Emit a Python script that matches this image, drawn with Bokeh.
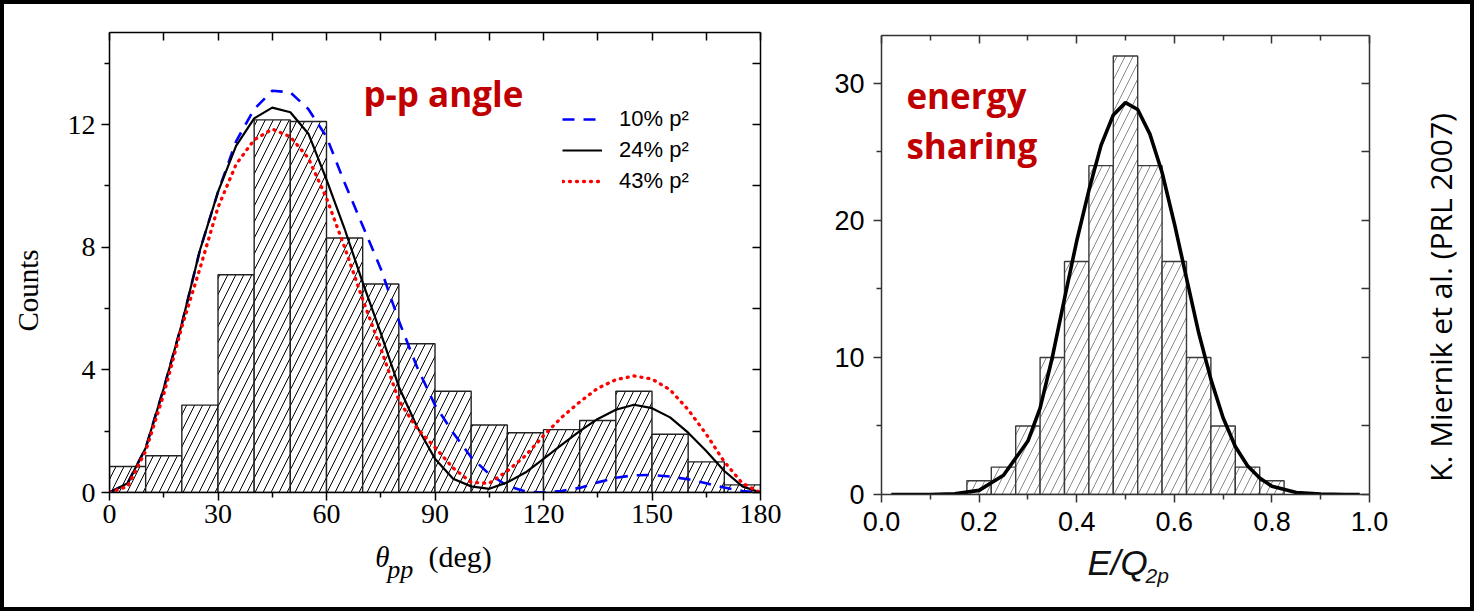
from math import pi
from bokeh.plotting import figure
from bokeh.models import (FixedTicker, LinearAxis, Label, Legend, LegendItem,
                          PrintfTickFormatter, Range1d)
from bokeh.layouts import row, column
from bokeh.core.properties import value
from bokeh.embed import file_html
from bokeh.resources import INLINE

# ---------------- data: p-p angle ----------------
theta_edges = [0, 10, 20, 30, 40, 50, 60, 70, 80, 90, 100, 110, 120, 130, 140, 150, 160, 170, 180]
theta_counts = [0.85, 1.2, 2.85, 7.1, 12.15, 12.1, 8.3, 6.8, 4.85, 3.3, 2.2, 1.95, 2.05, 2.35, 3.3, 1.9, 1.0, 0.25]

curve_theta = [0, 5, 10, 15, 20, 25, 30, 35, 40, 45, 50, 55, 60, 65, 70, 75, 80, 85, 90,
               95, 100, 105, 110, 115, 120, 125, 130, 135, 140, 145, 150, 155, 160, 165, 170, 175, 180]
curve_10pct = [0.0, 0.3, 1.45, 3.4, 5.5, 7.9, 9.8, 11.45, 12.5, 13.1, 13.05, 12.5, 11.6, 10.1, 8.7,
               7.3, 5.6, 4.1, 2.85, 1.95, 1.15, 0.6, 0.22, 0.03, 0.0, 0.05, 0.15, 0.33, 0.48, 0.56,
               0.57, 0.52, 0.43, 0.3, 0.16, 0.05, 0.0]
curve_24pct = [0.0, 0.3, 1.45, 3.4, 5.5, 7.9, 9.8, 11.3, 12.2, 12.55, 12.4, 11.7, 10.2, 8.6, 6.85,
               5.2, 3.45, 2.15, 1.1, 0.45, 0.2, 0.12, 0.33, 0.65, 1.1, 1.55, 2.0, 2.4, 2.7, 2.86,
               2.75, 2.45, 1.95, 1.35, 0.7, 0.2, 0.0]
curve_43pct = [0.0, 0.2, 1.35, 3.2, 5.4, 7.3, 9.3, 10.7, 11.5, 11.85, 11.6, 10.9, 9.6, 8.0, 6.3,
               4.7, 3.0, 2.1, 1.47, 0.8, 0.33, 0.3, 0.7, 1.2, 1.85, 2.45, 2.95, 3.4, 3.68, 3.8,
               3.7, 3.35, 2.7, 1.9, 1.0, 0.3, 0.0]
curve_labels = ["10% p\u00b2", "24% p\u00b2", "43% p\u00b2"]

theta_ticks = [0, 30, 60, 90, 120, 150, 180]
theta_minor = [15, 45, 75, 105, 135, 165]
count_ticks = [0, 4, 8, 12]
count_minor = [2, 6, 10, 14]

# ---------------- data: energy sharing ----------------
e_edges = [0.175, 0.225, 0.275, 0.325, 0.375, 0.425, 0.475, 0.525, 0.575, 0.625, 0.675, 0.725, 0.775, 0.825]
e_counts = [1, 2, 5, 10, 17, 24, 32, 24, 17, 10, 5, 2, 1]
fit_e = [0.02, 0.05, 0.1, 0.15, 0.2, 0.25, 0.3, 0.325, 0.35, 0.375, 0.4, 0.425, 0.45, 0.475, 0.5,
         0.525, 0.55, 0.575, 0.6, 0.625, 0.65, 0.675, 0.7, 0.725, 0.75, 0.775, 0.8, 0.85, 0.9, 0.95, 0.98]
fit_counts = [0.0, 0.0, 0.0, 0.05, 0.3, 1.4, 3.9, 6.3, 10.0, 14.3, 18.5, 22.2, 25.5, 27.7, 28.6,
              28.1, 26.3, 23.5, 19.8, 15.8, 11.8, 8.4, 5.6, 3.5, 2.1, 1.2, 0.6, 0.15, 0.03, 0.0, 0.0]
e_ticks = [0.0, 0.2, 0.4, 0.6, 0.8, 1.0]
e_minor = [0.1, 0.3, 0.5, 0.7, 0.9]
n_ticks = [0, 10, 20, 30]
n_minor = [5, 15, 25]

RED = "#C00000"
ser = "Liberation Serif"
sans = "Liberation Sans"


def style_axis(ax, major, minor, outward, font, size, color, standoff, width=1.5):
    ax.ticker = FixedTicker(ticks=major, minor_ticks=minor)
    ax.axis_line_width = width
    ax.axis_line_color = color
    ax.major_tick_line_color = color
    ax.minor_tick_line_color = color
    ax.major_tick_line_width = width
    ax.minor_tick_line_width = width
    if outward:
        ax.major_tick_out = 8
        ax.major_tick_in = 0
        ax.minor_tick_out = 5
        ax.minor_tick_in = 0
        ax.major_label_text_font = font
        ax.major_label_text_font_size = size
        ax.major_label_text_color = "black"
        ax.major_label_standoff = standoff
    else:
        ax.major_tick_out = 0
        ax.major_tick_in = 8
        ax.minor_tick_out = 0
        ax.minor_tick_in = 5
        ax.major_label_text_color = None
        ax.major_label_standoff = 0


def blank(fig):
    fig.grid.visible = False
    fig.outline_line_color = None
    fig.background_fill_color = "white"
    fig.border_fill_color = "white"


def strip(width, height, xr, yr, left=0, right=0):
    f = figure(width=width, height=height, x_range=xr, y_range=yr,
               output_backend="svg", toolbar_location=None,
               x_axis_location=None, y_axis_location=None,
               min_border_left=left, min_border_right=right, min_border_top=0, min_border_bottom=0)
    blank(f)
    return f


# ================= y-axis title strip (left) =================
q0 = strip(50, 603, Range1d(0, 50), Range1d(0, 603))
q0.text(x=[23], y=[317], text=["Counts"], text_font=value(ser), text_font_size="29px",
        text_color="black", angle=pi / 2, text_align="center", text_baseline="middle")

# ================= left figure =================
p1 = figure(width=740, height=532, x_range=Range1d(0, 180), y_range=Range1d(0, 15),
            output_backend="svg", toolbar_location=None,
            min_border_left=55, min_border_right=34, min_border_top=28, min_border_bottom=44)
blank(p1)

p1.quad(left=theta_edges[:-1], right=theta_edges[1:], bottom=0, top=theta_counts,
        fill_color="white", line_color="#222222", line_width=1.4,
        hatch_pattern="/", hatch_color="black", hatch_scale=16, hatch_weight=1.0)

r_b = p1.line(curve_theta, curve_10pct, line_color="#0000FF", line_width=2.6, line_dash="12 9")
r_k = p1.line(curve_theta, curve_24pct, line_color="black", line_width=2.2)
r_r = p1.line(curve_theta, curve_43pct, line_color="#FF0000", line_width=3.3,
              line_dash="1 6", line_cap="round")

style_axis(p1.xaxis[0], theta_ticks, theta_minor, True, ser, "28px", "black", 4)
style_axis(p1.yaxis[0], count_ticks, count_minor, True, ser, "28px", "black", 6)

top1 = LinearAxis()
style_axis(top1, theta_ticks + theta_minor, [], False, ser, "10px", "black", 0)
top1.major_tick_in = 8
p1.add_layout(top1, "above")
right1 = LinearAxis()
style_axis(right1, count_ticks + count_minor, [], False, ser, "10px", "black", 0)
right1.major_tick_in = 8
p1.add_layout(right1, "right")

legend = Legend(items=[LegendItem(label=curve_labels[0], renderers=[r_b]),
                       LegendItem(label=curve_labels[1], renderers=[r_k]),
                       LegendItem(label=curve_labels[2], renderers=[r_r])],
                location=(453, 298), glyph_width=40, glyph_height=20, label_height=20,
                label_standoff=17, spacing=5, padding=0, margin=0,
                border_line_color=None, background_fill_alpha=0,
                label_text_font=sans, label_text_font_size="22px", label_text_color="black")
p1.add_layout(legend)

p1.add_layout(Label(x=70.2, y=13.0, text="p-p angle", text_font="Open Sans",
                    text_font_style="bold", text_font_size="35px", text_color=RED,
                    text_baseline="alphabetic"))

# x-axis title strip under the left chart
q1 = strip(740, 71, p1.x_range, Range1d(0, 71), left=55, right=34)
q1.text(x=[73.5], y=[51], text=["\u03b8"], text_font=value(ser), text_font_style="italic",
        text_font_size="29px", text_color="black", text_baseline="alphabetic")
q1.text(x=[76.8], y=[38], text=["pp"], text_font=value(ser), text_font_style="italic",
        text_font_size="26px", text_color="black", text_baseline="alphabetic")
q1.text(x=[88.2], y=[51], text=["(deg)"], text_font=value(ser),
        text_font_size="30px", text_color="black", text_baseline="alphabetic")

# ================= right figure =================
p2 = figure(width=616, height=538, x_range=Range1d(0, 1.0), y_range=Range1d(0, 33.5),
            output_backend="svg", toolbar_location=None,
            min_border_left=87, min_border_right=41, min_border_top=31, min_border_bottom=48)
blank(p2)

p2.quad(left=e_edges[:-1], right=e_edges[1:], bottom=0, top=e_counts,
        fill_color="white", line_color="#3a3a3a", line_width=1.4,
        hatch_pattern="/", hatch_color="#8a8a8a", hatch_scale=16, hatch_weight=1.0)
p2.line(fit_e, fit_counts, line_color="black", line_width=3.6)

gray = "#333333"
style_axis(p2.xaxis[0], e_ticks, e_minor, True, sans, "27px", gray, 9)
p2.xaxis[0].formatter = PrintfTickFormatter(format="%.1f")
style_axis(p2.yaxis[0], n_ticks, n_minor, True, sans, "27px", gray, 9)

top2 = LinearAxis()
style_axis(top2, e_ticks, e_minor, False, sans, "10px", gray, 0)
p2.add_layout(top2, "above")
right2 = LinearAxis()
style_axis(right2, n_ticks + n_minor, [], False, sans, "10px", gray, 0)
right2.minor_tick_in = 0
right2.major_tick_in = 8
p2.add_layout(right2, "right")

p2.add_layout(Label(x=0.051, y=29.1, text="energy", text_font="Open Sans",
                    text_font_style="bold", text_font_size="35px", text_color=RED,
                    text_baseline="alphabetic"))
p2.add_layout(Label(x=0.051, y=25.45, text="sharing", text_font="Open Sans",
                    text_font_style="bold", text_font_size="35px", text_color=RED,
                    text_baseline="alphabetic"))

# x-axis title strip under the right chart
q2 = strip(616, 65, p2.x_range, Range1d(0, 65), left=87, right=41)
q2.text(x=[0.422], y=[45], text=["E/Q"], text_font=value(sans), text_font_style="italic",
        text_font_size="35px", text_color="#111111", text_baseline="alphabetic")
q2.text(x=[0.541], y=[32], text=["2p"], text_font=value(sans), text_font_style="italic",
        text_font_size="21px", text_color="#111111", text_baseline="alphabetic")

# side strip with the citation
q3 = strip(60, 603, Range1d(0, 60), Range1d(0, 603))
q3.text(x=[30], y=[310], text=["K. Miernik et al. (PRL 2007)"], text_font=value("Open Sans"),
        text_font_size="30px", text_color="black", angle=pi / 2,
        text_align="center", text_baseline="middle")

layout = row(q0, column(p1, q1), column(p2, q2), q3, styles={"border": "4px solid black"})

open("out.html", "w").write(file_html(layout, INLINE))
